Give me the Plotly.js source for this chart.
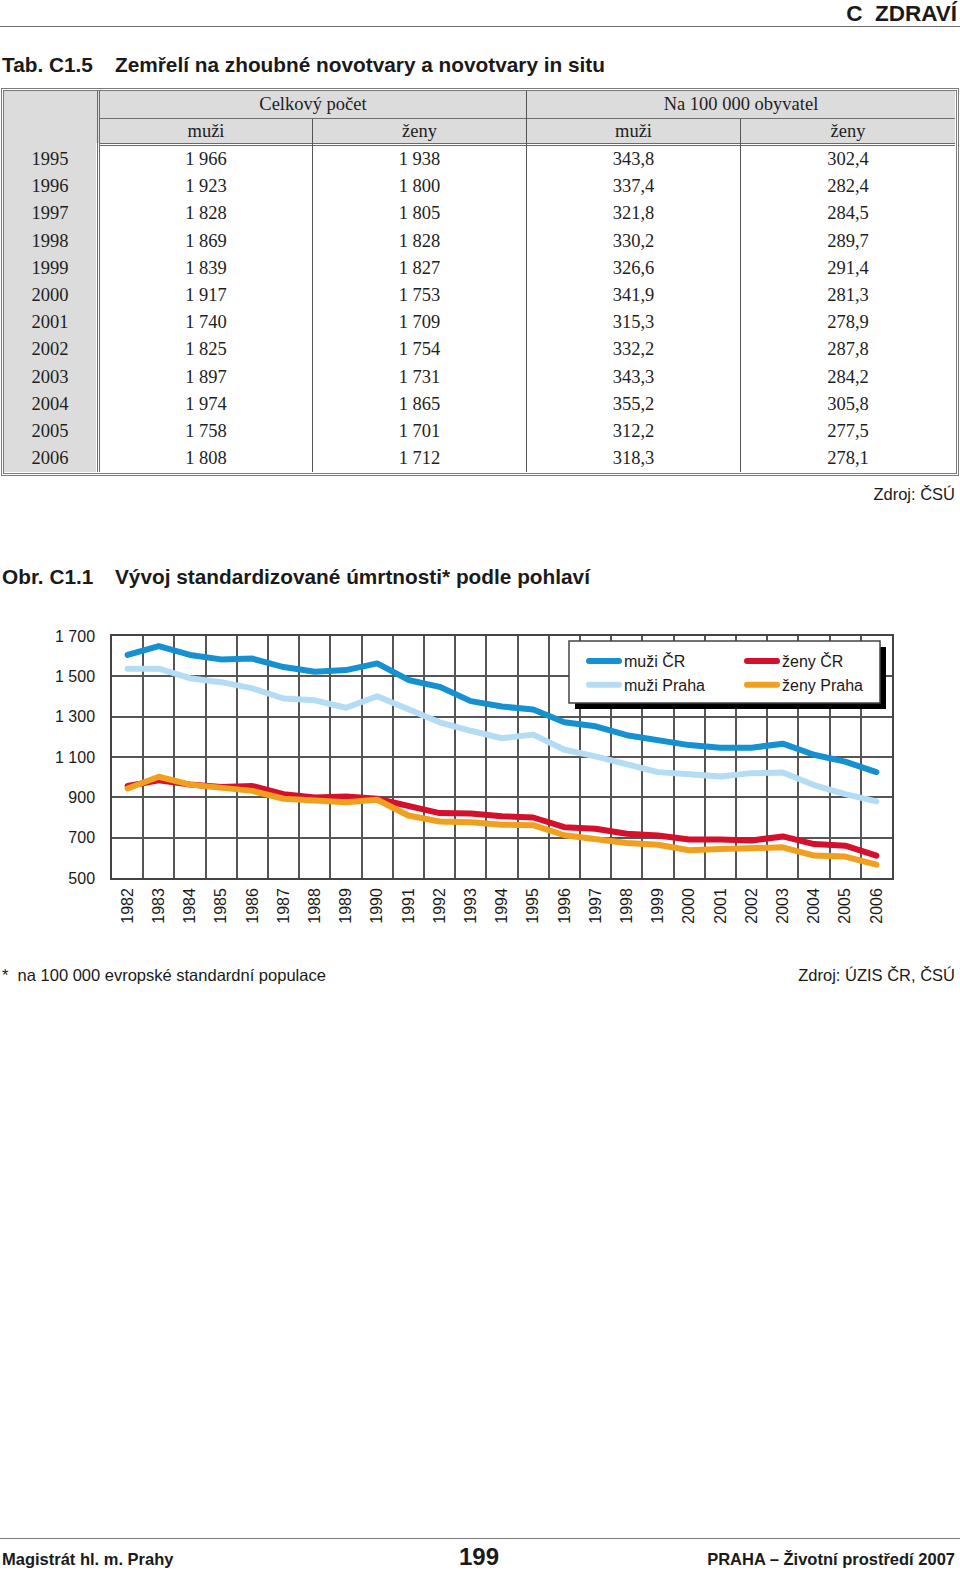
<!DOCTYPE html>
<html><head><meta charset="utf-8">
<script src="https://cdn.plot.ly/plotly-3.0.1.min.js"></script>
<style>
html,body{margin:0;padding:0;background:#fff;}
body{width:960px;height:1572px;position:relative;overflow:hidden;font-family:"Liberation Sans",Arial,sans-serif;color:#1a1a1a;}
.t{position:absolute;white-space:pre;line-height:1;}
.b{font-weight:bold;}
.ln{position:absolute;box-sizing:border-box;}
.cell{position:absolute;font-family:"Liberation Serif","Times New Roman",serif;font-size:18.5px;color:#1e1e1e;text-align:center;white-space:pre;}
#chart{position:absolute;left:0;top:600px;width:960px;height:345px;}
#chart .js-line{stroke-linejoin:round;stroke-linecap:round;}
</style></head>
<body>
<div id="chart"></div>
<script>
// ---------- table data ----------
var tabYears = [1995,1996,1997,1998,1999,2000,2001,2002,2003,2004,2005,2006];
var celkemMuzi = [1966,1923,1828,1869,1839,1917,1740,1825,1897,1974,1758,1808];
var celkemZeny = [1938,1800,1805,1828,1827,1753,1709,1754,1731,1865,1701,1712];
var na100kMuzi = [343.8,337.4,321.8,330.2,326.6,341.9,315.3,332.2,343.3,355.2,312.2,318.3];
var na100kZeny = [302.4,282.4,284.5,289.7,291.4,281.3,278.9,287.8,284.2,305.8,277.5,278.1];
var groupHeaders = ['Celkový počet','Na 100 000 obyvatel'];
var subHeaders = ['muži','ženy','muži','ženy'];

// ---------- chart data ----------
var years = ['1982','1983','1984','1985','1986','1987','1988','1989','1990','1991','1992','1993','1994','1995','1996','1997','1998','1999','2000','2001','2002','2003','2004','2005','2006'];
var muziCR    = [1606,1650,1606,1584,1588,1546,1523,1531,1564,1482,1448,1377,1350,1336,1272,1252,1208,1181,1159,1146,1146,1166,1111,1077,1025];
var muziPraha = [1538,1538,1491,1471,1440,1390,1381,1344,1401,1333,1272,1230,1193,1211,1136,1103,1061,1025,1015,1003,1020,1023,961,916,880];
var zenyCR    = [956,984,964,951,956,916,899,904,893,855,822,820,806,800,752,744,719,711,691,691,686,706,668,660,611];
var zenyPraha = [944,1002,963,946,932,893,881,876,888,810,780,776,764,762,712,694,674,665,638,644,650,652,611,606,566];
var yTickVals = [500,700,900,1100,1300,1500,1700];
var yTickText = ['500','700','900','1 100','1 300','1 500','1 700'];

// ---------- helpers ----------
function txt(s,o){
  var d=document.createElement('div');
  d.className='t'+(o.bold?' b':'');
  d.textContent=s;
  d.style.fontSize=o.size+'px';
  d.style.top=(o.base-0.8465*o.size)+'px';
  if(o.right!=null){d.style.right=(960-o.right)+'px';}
  else if(o.center!=null){d.style.left=(o.center-300)+'px';d.style.width='600px';d.style.textAlign='center';}
  else d.style.left=o.left+'px';
  document.body.appendChild(d);
}
function rect(l,t,w,h,css){
  var d=document.createElement('div');d.className='ln';
  d.style.left=l+'px';d.style.top=t+'px';d.style.width=w+'px';d.style.height=h+'px';
  for(var k in css) d.style[k]=css[k];
  document.body.appendChild(d);return d;
}
function cell(s,l,r,t,h){
  var d=document.createElement('div');d.className='cell';
  d.textContent=s;
  d.style.left=l+'px';d.style.width=(r-l)+'px';d.style.top=t+'px';d.style.height=h+'px';d.style.lineHeight=h+'px';
  document.body.appendChild(d);
}
function fmtInt(v){var s=String(v);return s.replace(/\B(?=(\d{3})+(?!\d))/g,' ');}
function fmtDec(v){return v.toFixed(1).replace('.',',');}

// ---------- page header ----------
txt('C  ZDRAVÍ',{right:957,base:22,size:22.5,bold:true});
rect(0,26,960,1.4,{background:'#6e6e6e'});
txt('Tab. C1.5',{left:2,base:73,size:20.8,bold:true});
txt('Zemřelí na zhoubné novotvary a novotvary in situ',{left:115,base:73,size:20.8,bold:true});

// ---------- table ----------
var colL=[4,100,313,527,741], colR=[96,312,526,740,955];
var h1T=91,h1B=118,h2T=119,h2B=143,dT=146,rowH=27.2;
var dB=dT+rowH*tabYears.length;
rect(4,h1T,951,h2B-h1T,{background:'#dcdcdc'});
rect(4,h1T,92,dB-h1T,{background:'#dcdcdc'});
rect(1,88,958,dB+3-88+0.5,{border:'3px double #7a7a7a'});
rect(96.5,h1T,3.5,dB-h1T,{borderLeft:'3.5px double #6a6a6a'});
rect(100,h1B,855,1,{background:'#6f6f6f'});
rect(100,h2B,855,3,{borderTop:'3px double #6a6a6a'});
rect(526,h1T,1,dB-h1T,{background:'#555'});
rect(312,h2T,1,dB-h2T,{background:'#555'});
rect(740,h2T,1,dB-h2T,{background:'#555'});
cell(groupHeaders[0],colL[1],colR[2],h1T,h1B-h1T);
cell(groupHeaders[1],colL[3],colR[4],h1T,h1B-h1T);
for(var j=0;j<4;j++) cell(subHeaders[j],colL[j+1],colR[j+1],h2T,h2B-h2T);
for(var i=0;i<tabYears.length;i++){
  var t=dT+i*rowH;
  cell(String(tabYears[i]),colL[0],colR[0],t,rowH);
  cell(fmtInt(celkemMuzi[i]),colL[1],colR[1],t,rowH);
  cell(fmtInt(celkemZeny[i]),colL[2],colR[2],t,rowH);
  cell(fmtDec(na100kMuzi[i]),colL[3],colR[3],t,rowH);
  cell(fmtDec(na100kZeny[i]),colL[4],colR[4],t,rowH);
}
txt('Zdroj: ČSÚ',{right:955,base:500,size:16.5});

// ---------- figure title ----------
txt('Obr. C1.1',{left:2,base:585,size:20.8,bold:true});
txt('Vývoj standardizované úmrtnosti* podle pohlaví',{left:115,base:585,size:20.8,bold:true});

// ---------- footnote ----------
txt('*  na 100 000 evropské standardní populace',{left:2,base:981,size:16.5});
txt('Zdroj: ÚZIS ČR, ČSÚ',{right:955,base:981,size:16.5});

// ---------- footer ----------
rect(0,1538,960,1.4,{background:'#7a7a7a'});
txt('Magistrát hl. m. Prahy',{left:2,base:1565,size:16.5,bold:true});
txt('199',{center:479,base:1565,size:24,bold:true});
txt('PRAHA – Životní prostředí 2007',{right:955,base:1565,size:16.5,bold:true});

// ---------- chart ----------
var W=780,H=242,L=112,T=36;
function px(x){return (x-L)/W;}
function py(y){return (T+H-(y-600))/H;}
var traces=[
 {x:years,y:muziCR,name:'muži ČR',type:'scatter',mode:'lines',line:{color:'#1591d2',width:6},legend:'legend'},
 {x:years,y:muziPraha,name:'muži Praha',type:'scatter',mode:'lines',line:{color:'#b4dcf4',width:6},legend:'legend'},
 {x:years,y:zenyCR,name:'ženy ČR',type:'scatter',mode:'lines',line:{color:'#d5102c',width:6},legend:'legend2'},
 {x:years,y:zenyPraha,name:'ženy Praha',type:'scatter',mode:'lines',line:{color:'#f0a01e',width:6},legend:'legend2'}
];
var axisCommon={showgrid:true,gridcolor:'#555',gridwidth:1.5,showline:true,mirror:true,linecolor:'#444',linewidth:1.5,zeroline:false,fixedrange:true};
var layout={
 width:960,height:345,margin:{l:L,r:960-L-W,t:T,b:345-T-H},
 paper_bgcolor:'rgba(0,0,0,0)',plot_bgcolor:'#fff',
 font:{family:'"Liberation Sans", Arial, sans-serif',size:16,color:'#1a1a1a'},
 showlegend:true,hovermode:false,
 xaxis:Object.assign({type:'category',range:[-0.5,24.5],tickson:'boundaries',ticks:'',tickangle:-90,ticklabelstandoff:2},axisCommon),
 yaxis:Object.assign({range:[500,1700],tickvals:yTickVals,ticktext:yTickText,ticks:'',ticklabelstandoff:12},axisCommon),
 legend:{x:px(584),y:py(644),xanchor:'left',yanchor:'top',bgcolor:'rgba(0,0,0,0)',borderwidth:0,font:{size:16}},
 legend2:{x:px(742),y:py(644),xanchor:'left',yanchor:'top',bgcolor:'rgba(0,0,0,0)',borderwidth:0,font:{size:16}},
 shapes:[
  {type:'rect',xref:'paper',yref:'paper',x0:px(575),x1:px(886),y0:py(709),y1:py(647),fillcolor:'#000',line:{width:0},layer:'above'},
  {type:'rect',xref:'paper',yref:'paper',x0:px(569),x1:px(880),y0:py(703),y1:py(641),fillcolor:'#fff',line:{color:'#444',width:1.5},layer:'above'}
 ]
};
Plotly.newPlot('chart',traces,layout,{displayModeBar:false,responsive:false});
</script>
</body></html>
